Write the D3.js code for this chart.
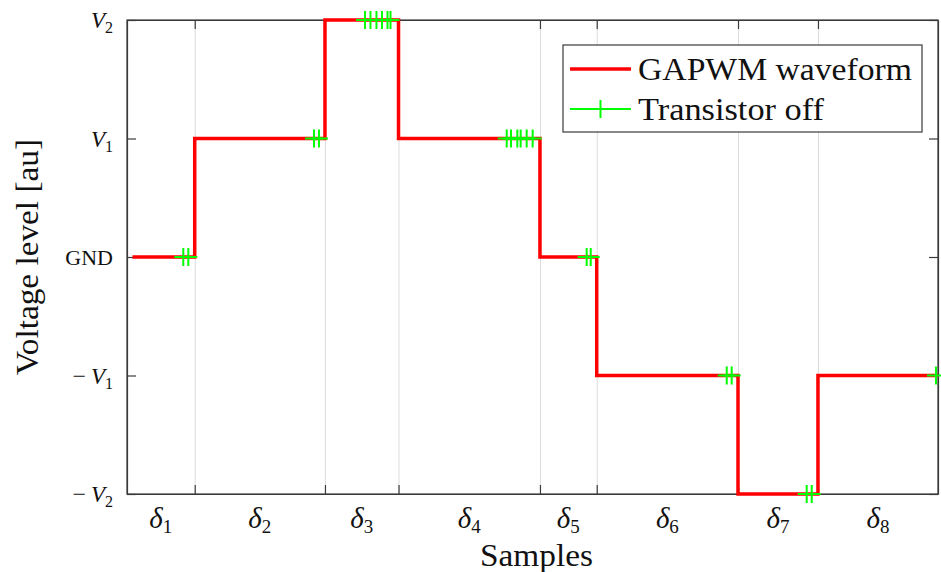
<!DOCTYPE html>
<html><head><meta charset="utf-8">
<script src="https://cdn.jsdelivr.net/npm/d3@7"></script>
<style>
  body { margin: 0; background: #fff; }
  text { font-family: "Liberation Serif", "DejaVu Serif", serif; fill: #111; }
</style>
</head><body>
<svg id="chart" width="941" height="572"></svg>
<script>
// Sample-interval boundaries (percent of the switching period)
const edges = [0, 8.35, 24.41, 33.48, 50.92, 57.92, 75.34, 85.20, 100];
const waveStartX = 0.68;
// Voltage level held in each interval: -2 = -V2, -1 = -V1, 0 = GND, 1 = V1, 2 = V2
const levels = [0, 1, 2, 1, 0, -1, -2, -1];
const intervalLabels = ["1", "2", "3", "4", "5", "6", "7", "8"];
// Transistor switch-off instants and the level at which each one occurs
const offX = [6.94, 7.56, 23.06, 23.67, 29.35, 30.02, 30.76, 31.44, 32.12, 32.49,
              46.82, 47.35, 48.13, 48.54, 49.28, 50.02, 56.68, 57.18, 73.95, 74.56,
              83.81, 84.43, 99.75];
const offY = [0, 0, 1, 1, 2, 2, 2, 2, 2, 2, 1, 1, 1, 1, 1, 1, 0, 0, -1, -1, -2, -2, -1];
const yTickValues = [-2, -1, 0, 1, 2];
const yTickLabels = [["−", "V", "2"], ["−", "V", "1"], ["GND"], ["", "V", "1"], ["", "V", "2"]];
const seriesNames = ["GAPWM waveform", "Transistor off"];

const svg = d3.select("#chart");
const m = { left: 127, right: 938, top: 20, bottom: 494 };
const x = d3.scaleLinear().domain([0, 100]).range([m.left, m.right]);
const y = d3.scaleLinear().domain([-2, 2]).range([m.bottom, m.top]);
const innerTicks = edges.slice(1, -1);
const axisColor = "#3a3a3a";

// vertical grid at every interval boundary
svg.append("g")
  .attr("transform", `translate(0,${m.bottom})`)
  .call(d3.axisBottom(x).tickValues(innerTicks).tickSize(-(m.bottom - m.top)).tickFormat(""))
  .call(g => g.select(".domain").remove())
  .call(g => g.selectAll("line").attr("stroke", "#dcdcdc").attr("stroke-width", 1).classed("grid", true));

// inward ticks on all four sides
const tk = 9;
svg.append("g").attr("transform", `translate(0,${m.bottom})`)
  .call(d3.axisBottom(x).tickValues(innerTicks).tickSizeInner(-tk).tickSizeOuter(0).tickFormat(""));
svg.append("g").attr("transform", `translate(0,${m.top})`)
  .call(d3.axisTop(x).tickValues(innerTicks).tickSizeInner(-tk).tickSizeOuter(0).tickFormat(""));
svg.append("g").attr("transform", `translate(${m.left},0)`)
  .call(d3.axisLeft(y).tickValues(yTickValues).tickSizeInner(-tk).tickSizeOuter(0).tickFormat(""));
svg.append("g").attr("transform", `translate(${m.right},0)`)
  .call(d3.axisRight(y).tickValues(yTickValues).tickSizeInner(-tk).tickSizeOuter(0).tickFormat(""));
svg.selectAll(".tick line:not(.grid)").attr("stroke", axisColor).attr("stroke-width", 1.2);
svg.selectAll(".domain").attr("stroke", axisColor).attr("stroke-width", 1.2);

// box
svg.append("rect")
  .attr("x", m.left).attr("y", m.top)
  .attr("width", m.right - m.left).attr("height", m.bottom - m.top)
  .attr("fill", "none").attr("stroke", axisColor).attr("stroke-width", 1.2);

// y tick labels
const yl = svg.append("g");
yTickValues.forEach((v, i) => {
  const lab = yTickLabels[i];
  const t = yl.append("text")
    .attr("x", 113).attr("y", y(v)).attr("dy", "0.35em")
    .attr("text-anchor", "end").attr("font-size", 23);
  if (lab.length === 1) {
    t.attr("font-size", 22).text(lab[0]);
  } else {
    if (lab[0]) t.append("tspan").text(lab[0] + "\u2009").attr("font-size", 24);
    t.append("tspan").attr("font-style", "italic").text(lab[1]);
    t.append("tspan").attr("font-size", 16).attr("dy", 5).text(lab[2]);
  }
});

// interval labels δ_k centred in each interval
const xl = svg.append("g");
intervalLabels.forEach((s, i) => {
  const cx = x((edges[i] + edges[i + 1]) / 2);
  const t = xl.append("text")
    .attr("x", cx).attr("y", 528).attr("text-anchor", "middle").attr("font-size", 29);
  t.append("tspan").attr("font-style", "italic").text("δ");
  t.append("tspan").attr("font-size", 19).attr("dy", 5).text(s);
});

// axis titles
svg.append("text")
  .attr("x", (m.left + m.right) / 2 + 4).attr("y", 566)
  .attr("text-anchor", "middle").attr("font-size", 32)
  .attr("textLength", 113).attr("lengthAdjust", "spacingAndGlyphs").text("Samples");
svg.append("text")
  .attr("transform", `translate(38,${(m.top + m.bottom) / 2}) rotate(-90)`)
  .attr("text-anchor", "middle").attr("font-size", 32)
  .attr("textLength", 236).attr("lengthAdjust", "spacingAndGlyphs").text("Voltage level [au]");

// stepped waveform
const wavePts = levels.map((lv, i) => [i === 0 ? waveStartX : edges[i], lv]);
wavePts.push([edges[edges.length - 1], levels[levels.length - 1]]);
svg.append("path")
  .datum(wavePts)
  .attr("fill", "none").attr("stroke", "#ff0000").attr("stroke-width", 3.5)
  .attr("stroke-linejoin", "miter").attr("stroke-linecap", "butt")
  .attr("d", d3.line().x(d => x(d[0])).y(d => y(d[1])).curve(d3.curveStepAfter));

// transistor-off markers
const ms = 9;
const plus = `M${-ms},0H${ms}M0,${-ms}V${ms}`;
svg.append("g").selectAll("path")
  .data(offX.map((v, i) => [v, offY[i]]))
  .join("path")
  .attr("transform", d => `translate(${x(d[0])},${y(d[1])})`)
  .attr("d", plus).attr("fill", "none").attr("stroke", "#00ff00").attr("stroke-width", 2);

// legend
const lg = svg.append("g");
lg.append("rect").attr("x", 563).attr("y", 45).attr("width", 359).attr("height", 87)
  .attr("fill", "#fff").attr("stroke", axisColor).attr("stroke-width", 1.2);
const rows = [69, 109];
const legendWidths = [274, 186];
lg.append("line").attr("x1", 570).attr("x2", 631).attr("y1", rows[0]).attr("y2", rows[0])
  .attr("stroke", "#ff0000").attr("stroke-width", 3.5);
lg.append("line").attr("x1", 570).attr("x2", 631).attr("y1", rows[1]).attr("y2", rows[1])
  .attr("stroke", "#00ff00").attr("stroke-width", 2);
lg.append("path").attr("transform", `translate(600.5,${rows[1]})`).attr("d", plus)
  .attr("fill", "none").attr("stroke", "#00ff00").attr("stroke-width", 2);
seriesNames.forEach((s, i) => {
  lg.append("text").attr("x", 638).attr("y", rows[i]).attr("dy", "0.33em")
    .attr("font-size", 32).attr("textLength", legendWidths[i])
    .attr("lengthAdjust", "spacingAndGlyphs").text(s);
});
</script>
</body></html>
